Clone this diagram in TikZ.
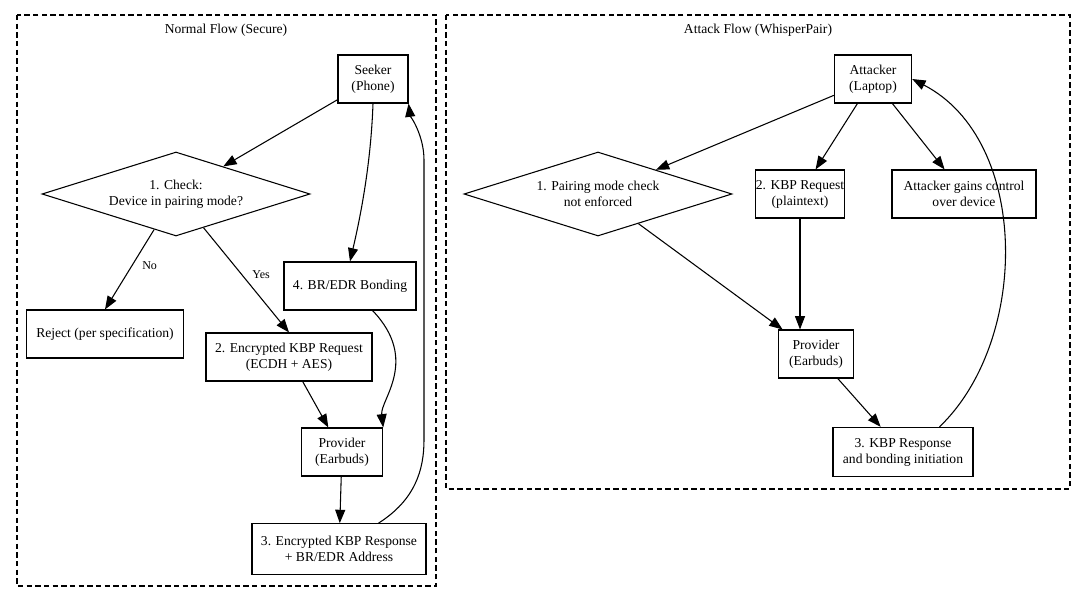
\documentclass[tikz,border=0pt]{standalone}
\usepackage{fontspec}
\setmainfont{Liberation Serif}
\usetikzlibrary{shapes.geometric,arrows.meta}
\begin{document}
\begin{tikzpicture}[x=0.75pt,y=-0.75pt,
  font=\fontsize{10.2}{12}\selectfont,
  every path/.style={line width=0.8pt},
  box/.style={draw,line width=0.8pt,align=center,inner sep=0pt},
  dia/.style={draw,line width=0.8pt,diamond,align=center,inner sep=0pt,minimum width=201pt,minimum height=63pt,aspect=3.2},
  cluster/.style={draw,line width=0.8pt,dash pattern=on 4pt off 2.5pt},
  arr/.style={line width=0.8pt,-{Triangle[length=10pt,width=7.5pt]}},
  lab/.style={font=\fontsize{9}{10}\selectfont}]
\useasboundingbox (0,0) rectangle (1086,602);
\draw[cluster] (17,15) rectangle (436,586);
\draw[cluster] (446,15) rectangle (1070,489);
\node (t1) at (226,30) {Normal Flow (Secure)};
\node (t2) at (758,30) {Attack Flow (WhisperPair)};
% left
\node[box,minimum width=52.5pt,minimum height=36pt] (seek) at (373,79) {Seeker\\(Phone)};
\node[dia] (check) at (176,194) {1. Check:\\Device in pairing mode?};
\node[box,minimum width=99pt,minimum height=36pt] (bond) at (350,286) {4. BR/EDR Bonding};
\node[box,minimum width=118pt,minimum height=36pt] (rej) at (105,334) {Reject (per specification)};
\node[box,minimum width=124.5pt,minimum height=36pt] (enc) at (289,357) {2. Encrypted KBP Request\\(ECDH + AES)};
\node[box,minimum width=61pt,minimum height=36pt] (provl) at (342,452) {Provider\\(Earbuds)};
\node[box,minimum width=130.5pt,minimum height=38pt] (resp) at (339,549) {3. Encrypted KBP Response\\+ BR/EDR Address};
\draw[arr] (seek) -- (check);
\draw[arr] (seek.south) .. controls (371,160) and (362,210) .. (bond.north);
\draw[arr] (check) -- node[lab,right,pos=0.45,xshift=4pt]{No} (rej.north);
\draw[arr] (check) -- node[lab,right,pos=0.45,xshift=4pt]{Yes} (enc.north);
\draw[arr] (enc) -- (provl);
\draw[arr] (bond.south east) ++(-44,0) .. controls (420,360) and (380,400) .. (provl.north east);
\draw[arr] (provl) -- (resp);
\draw[arr] (resp.north east) ++(-48,0) .. controls (415,500) and (424,470) .. (424,440) -- (424,160) .. controls (424,135) and (410,115) .. (seek.south east);
% right
\node[box,minimum width=58pt,minimum height=36pt] (att) at (873,79) {Attacker\\(Laptop)};
\node[dia] (pair) at (598,194) {1. Pairing mode check\\not enforced};
\node[box,minimum width=60pt,minimum height=36pt] (kreq) at (800,194) {2. KBP Request\\(plaintext)};
\node[box,minimum width=108pt,minimum height=36pt] (gain) at (964,194) {Attacker gains control\\over device};
\node[box,minimum width=56pt,minimum height=36pt] (provr) at (816,354) {Provider\\(Earbuds)};
\node[box,minimum width=105pt,minimum height=37pt] (kresp) at (903,452) {3. KBP Response\\and bonding initiation};
\draw[arr] (att) -- (pair);
\draw[arr] (att) -- (kreq);
\draw[arr] (att) -- (gain);
\draw[arr] (pair) -- (provr);
\draw[arr] (kreq) -- (provr.north -| kreq);
\draw[arr] (provr) -- (kresp);
\draw[arr] (kresp.north east) ++(-34,0) .. controls (1030,340) and (1030,140) .. (att.east);
\end{tikzpicture}
\end{document}
